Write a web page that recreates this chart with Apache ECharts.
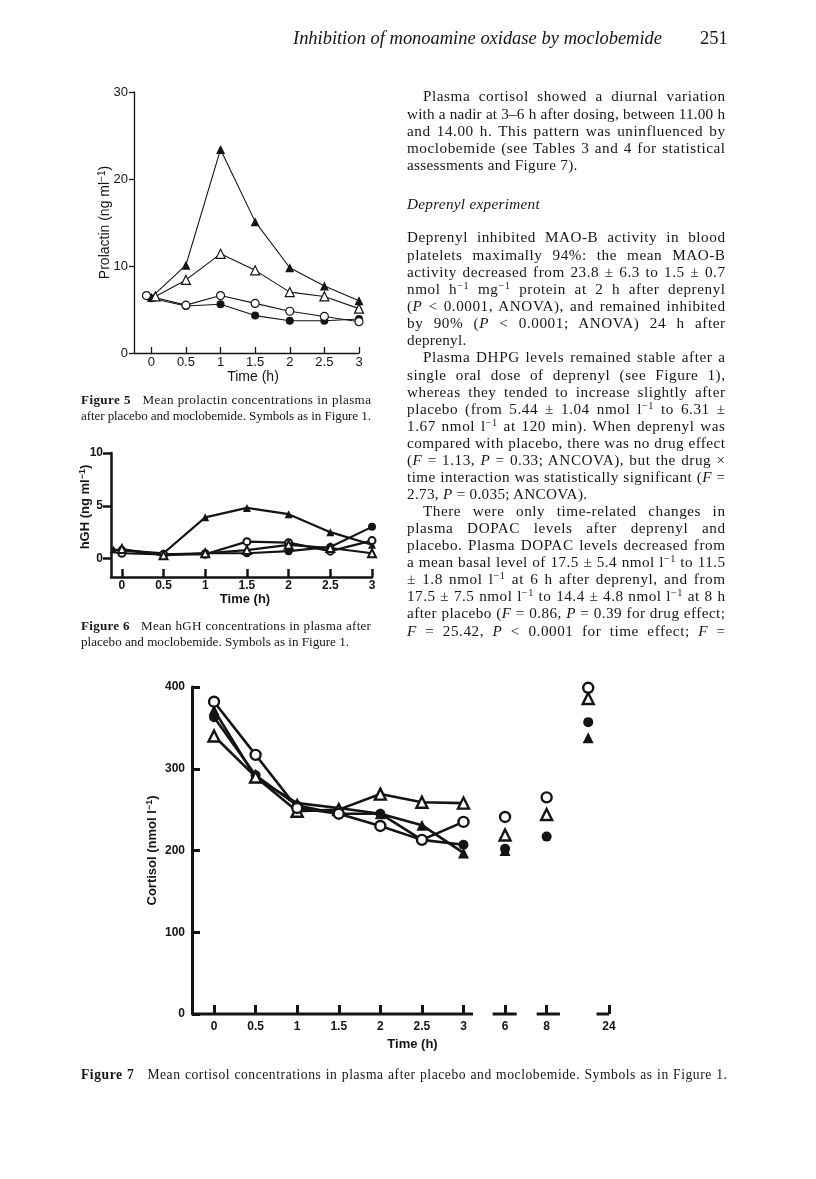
<!DOCTYPE html>
<html>
<head>
<meta charset="utf-8">
<script src="https://cdn.jsdelivr.net/npm/echarts@6/dist/echarts.min.js"></script>
<style>
body { margin: 0; background: #fff; }
#page { position: relative; width: 816px; height: 1179px; overflow: hidden; background: #fff; }
#chart { position: absolute; left: 0; top: 0; width: 816px; height: 1179px; }
.ln { position: absolute; font-family: "Liberation Serif", "DejaVu Serif", serif; color: #161616; text-align: justify; text-align-last: justify; }
.ln.left { text-align: left; text-align-last: left; }
.ln sup { font-size: 68%; line-height: 0; vertical-align: 0.45em; }
</style>
</head>
<body>
<div id="page">
  <div id="chart"></div>
</div>
<script>
// Figure 5: prolactin (ng/ml)
var prlTime   = [0, 0.5, 1, 1.5, 2, 2.5, 3];
var prlTimeOC = [-0.07, 0.5, 1, 1.5, 2, 2.5, 3];
var prlTimeOT = [0.06, 0.5, 1, 1.5, 2, 2.5, 3];
var prlFilledTri  = [6.4, 10.1, 23.4, 15.1, 9.8, 7.7, 6.0];
var prlOpenTri    = [6.5, 8.4, 11.4, 9.5, 7.0, 6.5, 5.1];
var prlOpenCirc   = [6.6, 5.5, 6.6, 5.7, 4.8, 4.2, 3.6];
var prlFilledCirc = [6.3, 5.4, 5.6, 4.3, 3.7, 3.7, 3.9];

// Figure 6: hGH (ng/ml)
var ghTime   = [0, 0.5, 1, 1.5, 2, 2.5, 3];
var ghTimeFT = [-0.1, 0.5, 1, 1.5, 2, 2.5, 3];
var ghFilledTri  = [0.85, 0.5, 3.9, 4.8, 4.2, 2.5, 1.3];
var ghFilledCirc = [0.8, 0.4, 0.5, 0.5, 0.7, 1.1, 3.0];
var ghOpenCirc   = [0.5, 0.4, 0.4, 1.6, 1.5, 0.7, 1.7];
var ghOpenTri    = [0.9, 0.3, 0.5, 0.8, 1.3, 1.0, 0.5];

// Figure 7: cortisol (nmol/l), times in h
var cortTime = [0, 0.5, 1, 1.5, 2, 2.5, 3, 6, 8, 24];
var cortOpenCirc   = [382, 317, 252, 245, 230, 213, 235, 241, 265, 399];
var cortOpenTri    = [340, 290, 248, 250, 269, 259, 258, 219, 244, 386];
var cortFilledCirc = [363, 292, 255, 245, 245, 213, 207, 202, 217, 357];
var cortFilledTri  = [372, 289, 258, 252, 245, 231, 197, 200, 245, 338];
var cortTickLabels = ['0', '0.5', '1', '1.5', '2', '2.5', '3', '6', '8', '24'];

// broken time axis of figure 7: 0-3 h in half-hour steps, then 6, 8, 24
var lateSlot = { 6: 7, 8: 8, 24: 9 };
function cortX(t) { return t <= 3 ? t * 2 : lateSlot[t]; }
var cortTickPos = [0, 1, 2, 3, 4, 5, 6, 7, 8, 9.5];
var cortAxisPieces = [[-0.53, 6.23], [6.7, 7.28], [7.76, 8.32], [9.2, 9.5]];

var black = '#141414';
var sans = '"Liberation Sans", Arial, sans-serif';

function pairs(ts, vs) {
	return ts.map(function(t, i) { return [t, vs[i]]; });
}

function ser(type, gi, sym, open, data, size, lw, bw) {
	return {
		type: type,
		xAxisIndex: gi,
		yAxisIndex: gi,
		data: data,
		symbol: sym,
		symbolSize: size,
		showSymbol: true,
		clip: false,
		silent: true,
		z: open ? 4 : 3,
		lineStyle: { color: black, width: lw },
		itemStyle: { color: open ? '#fff' : black, borderColor: black, borderWidth: open ? bw : 0, opacity: 1 }
	};
}

function supName(txt, size, bold) {
	return {
		text: '{a|' + txt + '}{s|\u22121}{a|)}',
		rich: {
			a: { fontSize: size, fontFamily: sans, fontWeight: bold ? 'bold' : 'normal', color: black, lineHeight: size + 2 },
			s: { fontSize: size - 4, fontFamily: sans, fontWeight: bold ? 'bold' : 'normal', color: black, verticalAlign: 'top', lineHeight: size - 3 }
		}
	};
}

var n5 = supName('Prolactin (ng ml', 14, false);
var n6 = supName('hGH (ng ml', 13, true);
var n7 = supName('Cortisol (nmol l', 13, true);

var chart = echarts.init(document.getElementById('chart'));

var axisPieceData = [];
cortAxisPieces.forEach(function(p, i) {
	if (i > 0) axisPieceData.push([p[0] - 0.1, '-']);
	axisPieceData.push([p[0], 0], [p[1], 0]);
});

var option = {
	animation: false,
	backgroundColor: '#fff',
	grid: [
		{ left: 134, top: 92, width: 225, height: 261 },
		{ left: 111, top: 453, width: 261, height: 124 },
		{ left: 192, top: 687, width: 417, height: 327 }
	],
	xAxis: [{
		gridIndex: 0, type: 'value', min: -0.25, max: 3,
		axisLine: { onZero: false, lineStyle: { color: black, width: 1.3 } },
		axisTick: { show: true, inside: true, length: 6, customValues: prlTime, lineStyle: { color: black, width: 1.3 } },
		axisLabel: { customValues: prlTime, margin: 3, fontSize: 13, fontFamily: sans, color: black },
		splitLine: { show: false },
		name: 'Time (h)', nameLocation: 'middle', nameGap: 17, nameMoveOverlap: false,
		nameTextStyle: { fontSize: 14, fontFamily: sans, color: black, padding: [0, 0, 0, 13] }
	}, {
		gridIndex: 1, type: 'value', min: -0.13, max: 3,
		axisLine: { onZero: false, lineStyle: { color: black, width: 2.5 } },
		axisTick: { show: true, inside: true, length: 8, customValues: ghTime, lineStyle: { color: black, width: 2.5 } },
		axisLabel: { customValues: ghTime, margin: 3, fontSize: 12, fontWeight: 'bold', fontFamily: sans, color: black },
		splitLine: { show: false },
		name: 'Time (h)', nameLocation: 'middle', nameGap: 16, nameMoveOverlap: false,
		nameTextStyle: { fontSize: 13, fontWeight: 'bold', fontFamily: sans, color: black, padding: [0, 0, 0, 7] }
	}, {
		gridIndex: 2, type: 'value', min: -0.53, max: 9.5,
		axisLine: { show: false, onZero: false },
		axisTick: { show: true, inside: true, length: 9, customValues: cortTickPos, lineStyle: { color: black, width: 3 } },
		axisLabel: {
			customValues: cortTickPos, margin: 7, fontSize: 12, fontWeight: 'bold', fontFamily: sans, color: black,
			formatter: function(v) {
				var i = cortTickPos.indexOf(v);
				return i >= 0 ? cortTickLabels[i] : '';
			}
		},
		splitLine: { show: false },
		name: 'Time (h)', nameLocation: 'middle', nameGap: 24, nameMoveOverlap: false,
		nameTextStyle: { fontSize: 13, fontWeight: 'bold', fontFamily: sans, color: black, padding: [0, 0, 0, 24] }
	}],
	yAxis: [{
		gridIndex: 0, type: 'value', min: 0, max: 30, interval: 10,
		axisLine: { show: true, onZero: false, lineStyle: { color: black, width: 1.3 } },
		axisTick: { show: true, length: 5, lineStyle: { color: black, width: 1.3 } },
		axisLabel: { margin: 6, fontSize: 13, fontFamily: sans, color: black },
		splitLine: { show: false },
		name: n5.text, nameLocation: 'middle', nameRotate: 90, nameGap: 21, nameMoveOverlap: false,
		nameTextStyle: { rich: n5.rich }
	}, {
		gridIndex: 1, type: 'value', min: -1.75, max: 10,
		axisLine: { show: true, onZero: false, lineStyle: { color: black, width: 2.5 } },
		axisTick: { show: true, length: 8, customValues: [0, 5, 10], lineStyle: { color: black, width: 2.5 } },
		axisLabel: { customValues: [0, 5, 10], margin: 8, fontSize: 12, fontWeight: 'bold', fontFamily: sans, color: black },
		splitLine: { show: false },
		name: n6.text, nameLocation: 'middle', nameRotate: 90, nameGap: 18, nameMoveOverlap: false,
		nameTextStyle: { rich: n6.rich, padding: [0, 0, 0, 16] }
	}, {
		gridIndex: 2, type: 'value', min: 0, max: 400, interval: 100,
		axisLine: { show: true, onZero: false, lineStyle: { color: black, width: 3 } },
		axisTick: { show: true, inside: true, length: 8, lineStyle: { color: black, width: 3 } },
		axisLabel: { margin: 7, fontSize: 12, fontWeight: 'bold', fontFamily: sans, color: black },
		splitLine: { show: false },
		name: n7.text, nameLocation: 'middle', nameRotate: 90, nameGap: 32, nameMoveOverlap: false,
		nameTextStyle: { rich: n7.rich }
	}],
	series: [
		ser('line', 0, 'triangle', false, pairs(prlTime, prlFilledTri), 9, 1.1, 0),
		ser('line', 0, 'triangle', true, pairs(prlTimeOT, prlOpenTri), 9, 1.1, 1.2),
		ser('line', 0, 'circle', true, pairs(prlTimeOC, prlOpenCirc), 8, 1.1, 1.2),
		ser('line', 0, 'circle', false, pairs(prlTime, prlFilledCirc), 8, 1.1, 0),

		ser('line', 1, 'triangle', false, pairs(ghTimeFT, ghFilledTri), 8, 2.2, 0),
		ser('line', 1, 'circle', false, pairs(ghTime, ghFilledCirc), 8, 2.2, 0),
		ser('line', 1, 'circle', true, pairs(ghTime, ghOpenCirc), 7, 2.2, 2),
		ser('line', 1, 'triangle', true, pairs(ghTime, ghOpenTri), 8, 2.2, 2),

		ser('line', 2, 'triangle', false, pairs(cortTime.slice(0, 7).map(cortX), cortFilledTri), 11, 2.6, 0),
		ser('line', 2, 'circle', false, pairs(cortTime.slice(0, 7).map(cortX), cortFilledCirc), 10, 2.6, 0),
		ser('line', 2, 'triangle', true, pairs(cortTime.slice(0, 7).map(cortX), cortOpenTri), 11, 2.6, 2.4),
		ser('line', 2, 'circle', true, pairs(cortTime.slice(0, 7).map(cortX), cortOpenCirc), 10, 2.6, 2.4),
		ser('scatter', 2, 'triangle', false, pairs(cortTime.slice(7).map(cortX), cortFilledTri.slice(7)), 11, 0, 0),
		ser('scatter', 2, 'circle', false, pairs(cortTime.slice(7).map(cortX), cortFilledCirc.slice(7)), 10, 0, 0),
		ser('scatter', 2, 'triangle', true, pairs(cortTime.slice(7).map(cortX), cortOpenTri.slice(7)), 11, 0, 2.4),
		ser('scatter', 2, 'circle', true, pairs(cortTime.slice(7).map(cortX), cortOpenCirc.slice(7)), 10, 0, 2.4),
		{
			type: 'line', xAxisIndex: 2, yAxisIndex: 2, data: axisPieceData, symbol: 'none',
			connectNulls: false, clip: false, silent: true, z: 1,
			lineStyle: { color: black, width: 3 }
		}
	]
};
chart.setOption(option);

// ---- page text ----
var page = document.getElementById('page');
var LH = 17.07;

var meas = document.createElement('span');
meas.style.cssText = 'position:absolute;visibility:hidden;white-space:nowrap;left:0;top:0;';
document.body.appendChild(meas);

function addLine(html, x, cy, w, size, opts) {
	opts = opts || {};
	var d = document.createElement('div');
	d.className = 'ln' + (opts.left ? ' left' : '');
	d.style.left = x + 'px';
	d.style.top = (cy - LH / 2) + 'px';
	d.style.height = LH + 'px';
	d.style.lineHeight = LH + 'px';
	d.style.fontSize = size + 'px';
	if (opts.italic) d.style.fontStyle = 'italic';
	meas.style.fontFamily = '"Liberation Serif", "DejaVu Serif", serif';
	meas.style.fontSize = size + 'px';
	meas.style.fontStyle = opts.italic ? 'italic' : 'normal';
	meas.style.letterSpacing = '0px';
	meas.innerHTML = html;
	var nat = meas.getBoundingClientRect().width;
	var n = meas.textContent.length;
	var ls, dw;
	if (opts.left) {
		ls = opts.ls != null ? opts.ls : 0.3;
		dw = w + 60;
	} else {
		var target = w - 1;
		ls = Math.max(-0.7, Math.min(0.55, (target - nat) / n));
		if (nat + n * ls > target) ls = (target - nat) / n;
		// visible right edge sits at x + w; keep room for the content
		dw = Math.max(w + ls, nat + n * ls + 0.5);
	}
	d.style.letterSpacing = ls + 'px';
	d.style.width = dw + 'px';
	d.innerHTML = html;
	page.appendChild(d);
}

function addPara(lines, x, cy, w, size, indent, lastLeft) {
	lines.forEach(function(l, i) {
		var ind = (i === 0 && indent) ? indent : 0;
		addLine(l, x + ind, cy + i * LH, w - ind, size, { left: lastLeft && i === lines.length - 1 });
	});
}

var sup = '<sup>\u22121</sup>';

// running head
addLine('Inhibition of monoamine oxidase by moclobemide', 293, 39, 369, 18.5, { italic: true });
addLine('251', 700, 39, 26, 18.5, { left: true, ls: 0 });

var colX = 407, colW = 318, fs = 15.2;
addPara([
	'Plasma cortisol showed a diurnal variation',
	'with a nadir at 3\u20136 h after dosing, between 11.00 h',
	'and 14.00 h. This pattern was uninfluenced by',
	'moclobemide (see Tables 3 and 4 for statistical',
	'assessments and Figure 7).'
], colX, 96, colW, fs, 16, true);

addLine('Deprenyl experiment', colX, 204, colW, fs, { left: true, italic: true });

addPara([
	'Deprenyl inhibited MAO-B activity in blood',
	'platelets maximally 94%: the mean MAO-B',
	'activity decreased from 23.8 \u00b1 6.3 to 1.5 \u00b1 0.7',
	'nmol h' + sup + ' mg' + sup + ' protein at 2 h after deprenyl',
	'(<i>P</i> &lt; 0.0001, ANOVA), and remained inhibited',
	'by 90% (<i>P</i> &lt; 0.0001; ANOVA) 24 h after',
	'deprenyl.'
], colX, 237, colW, fs, 0, true);

addPara([
	'Plasma DHPG levels remained stable after a',
	'single oral dose of deprenyl (see Figure 1),',
	'whereas they tended to increase slightly after',
	'placebo (from 5.44 \u00b1 1.04 nmol l' + sup + ' to 6.31 \u00b1',
	'1.67 nmol l' + sup + ' at 120 min). When deprenyl was',
	'compared with placebo, there was no drug effect',
	'(<i>F</i> = 1.13, <i>P</i> = 0.33; ANCOVA), but the drug \u00d7',
	'time interaction was statistically significant (<i>F</i> =',
	'2.73, <i>P</i> = 0.035; ANCOVA).'
], colX, 357, colW, fs, 16, true);

addPara([
	'There were only time-related changes in',
	'plasma DOPAC levels after deprenyl and',
	'placebo. Plasma DOPAC levels decreased from',
	'a mean basal level of 17.5 \u00b1 5.4 nmol l' + sup + ' to 11.5',
	'\u00b1 1.8 nmol l' + sup + ' at 6 h after deprenyl, and from',
	'17.5 \u00b1 7.5 nmol l' + sup + ' to 14.4 \u00b1 4.8 nmol l' + sup + ' at 8 h',
	'after placebo (<i>F</i> = 0.86, <i>P</i> = 0.39 for drug effect;',
	'<i>F</i> = 25.42, <i>P</i> &lt; 0.0001 for time effect; <i>F</i> ='
], colX, 510.6, colW, fs, 16, false);

// figure captions
var capFs = 13.1;
addLine('<b>Figure 5</b>&nbsp;&nbsp; Mean prolactin concentrations in plasma', 81, 400, 290, capFs);
addLine('after placebo and moclobemide. Symbols as in Figure 1.', 81, 416, 290, capFs);
addLine('<b>Figure 6</b>&nbsp;&nbsp; Mean hGH concentrations in plasma after', 81, 626, 290, capFs);
addLine('placebo and moclobemide. Symbols as in Figure 1.', 81, 642, 290, capFs, { left: true, ls: 0 });
addLine('<b>Figure 7</b>&nbsp;&nbsp; Mean cortisol concentrations in plasma after placebo and moclobemide. Symbols as in Figure 1.', 81, 1075, 646, 13.6);
</script>
</body>
</html>
